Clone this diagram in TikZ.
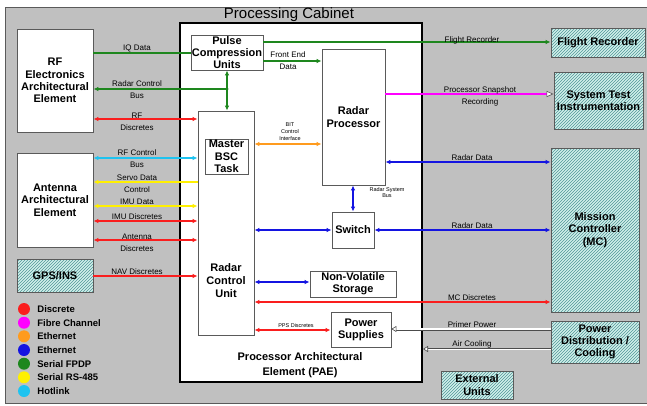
\documentclass[tikz,border=0pt]{standalone}
\usepackage{fontspec}
\setmainfont{Liberation Sans}
\usetikzlibrary{arrows.meta,patterns,positioning}

\definecolor{bggray}{RGB}{192,192,192}
\definecolor{boxline}{RGB}{90,90,90}
\definecolor{hatchbg}{RGB}{210,240,236}
\definecolor{hatchln}{RGB}{80,150,150}
\definecolor{fpdp}{RGB}{30,135,30}
\definecolor{discr}{RGB}{250,30,30}
\definecolor{fibre}{RGB}{255,0,255}
\definecolor{ethorange}{RGB}{255,155,30}
\definecolor{ethblue}{RGB}{20,20,225}
\definecolor{rsyellow}{RGB}{255,240,0}
\definecolor{hotlink}{RGB}{30,195,240}

\begin{document}
\begin{tikzpicture}
      [x=1pt, y=-1pt, >={Latex[length=5pt,width=4.5pt]},
       box/.style={draw=boxline, fill=white, line width=0.8pt, inner sep=0pt,
         align=center, font=\bfseries\fontsize{11}{12.3}\selectfont},
       extbox/.style={box, preaction={fill=hatchbg}, pattern=north east lines,
         pattern color=hatchln},
       lbl/.style={inner sep=0pt, align=center, font=\fontsize{8}{12}\selectfont},
       smalllbl/.style={inner sep=0pt, align=center, font=\fontsize{5.5}{7}\selectfont},
       link/.style={line width=1.5pt},
       hollow/.style={draw=gray!60!black, double=white, line width=0.8pt,
         -{Triangle[open,fill=white,length=5pt,width=6pt,line width=0.6pt]}}]
      \useasboundingbox (0,0) rectangle (647,405);
      \fill [bggray] (5,7) rectangle (647,403);
      \draw [boxline] (647,7) -- (5,7) -- (5,403) -- (647,403);

      % processing cabinet
      \node [draw=black, fill=white, line width=2pt, minimum width=242pt,
             minimum height=359pt] (cabinet) at (301,202.5) {};
      \node [font=\fontsize{15}{18}\selectfont, inner sep=0pt] (cabtitle) at (289,15) {Processing Cabinet};
      \node [box, minimum width=72pt, minimum height=35pt] (pcu) at (227,52.5) {Pulse\\Compression\\Units};
      \node [box, minimum width=56pt, minimum height=224pt] (rcu) at (226,223) {};
      \node [box, minimum width=43pt, minimum height=35pt] (bsc) at (226.5,156.5) {Master\\BSC\\Task};
      \node [font=\bfseries\fontsize{11}{13}\selectfont, align=center, inner sep=0pt] (rcutext) at (226,281) {Radar\\Control\\Unit};
      \node [box, minimum width=63pt, minimum height=136pt] (rp) at (353.5,117) {Radar\\Processor};
      \node [box, minimum width=42pt, minimum height=36pt] (sw) at (353,230) {Switch};
      \node [box, minimum width=86pt, minimum height=26pt] (nvs) at (353,284) {Non-Volatile\\Storage};
      \node [box, minimum width=60pt, minimum height=35pt] (ps) at (361,329.5) {Power\\Supplies};
      \node [font=\bfseries\fontsize{11}{15}\selectfont, align=center, inner sep=0pt] (pae) at (300,365.5) {Processor Architectural\\Element (PAE)};

      % elements outside the cabinet
      \node [box, minimum width=76pt, minimum height=103pt] (rf) at (55,80.5) {RF\\Electronics\\Architectural\\Element};
      \node [box, minimum width=76pt, minimum height=94pt] (ant) at (55,200) {Antenna\\Architectural\\Element};
      \node [extbox, minimum width=76pt, minimum height=33pt] (gps) at (55,275.5) {GPS/INS};
      \node [extbox, minimum width=94pt, minimum height=29pt] (fr) at (598,42.5) {Flight Recorder};
      \node [extbox, minimum width=89pt, minimum height=57pt] (sti) at (598.5,100.5) {System Test\\Instrumentation};
      \node [extbox, minimum width=88pt, minimum height=164pt] (mc) at (595,230) {Mission\\Controller\\(MC)};
      \node [extbox, minimum width=88pt, minimum height=42pt] (pdc) at (595,342) {Power\\Distribution /\\Cooling};
      \node [extbox, minimum width=72pt, minimum height=28pt] (ext) at (477,385) {External\\Units};

      % links to the RF and antenna elements
      \draw [link, fpdp] (rf.east |- 0,53) -- (pcu.west |- 0,53);
      \draw [link, fpdp, <->] (pcu.south) -- (pcu.south |- rcu.north);
      \coordinate (rcbjoin) at (pcu.south |- 0,89);
      \draw [link, fpdp, ->] (rcbjoin) -- (rf.east |- rcbjoin);
      \fill [fpdp] (rcbjoin) circle (1.6pt);
      \draw [link, discr, <->] (rf.east |- 0,119) -- (rcu.west |- 0,119);
      \draw [link, hotlink, <->] (ant.east |- 0,158) -- (rcu.west |- 0,158);
      \draw [link, rsyellow, ->] (rcu.west |- 0,182) -- (ant.east |- 0,182);
      \draw [link, rsyellow, <->] (ant.east |- 0,206) -- (rcu.west |- 0,206);
      \draw [link, discr, <->] (ant.east |- 0,221) -- (rcu.west |- 0,221);
      \draw [link, discr, <->] (ant.east |- 0,240) -- (rcu.west |- 0,240);
      \draw [link, discr, ->] (gps.east |- 0,276) -- (rcu.west |- 0,276);

      % links inside the cabinet
      \draw [link, fpdp, ->] (pcu.east |- 0,61) -- (rp.west |- 0,61);
      \draw [link, ethorange, <->] (rcu.east |- 0,144) -- (rp.west |- 0,144);
      \draw [link, ethblue, <->] (rp.south -| sw.north) -- (sw.north);
      \draw [link, ethblue, <->] (rcu.east |- sw.west) -- (sw.west);
      \draw [link, ethblue, <->] (rcu.east |- 0,282) -- (nvs.west |- 0,282);
      \draw [link, discr, <->] (rcu.east |- 0,330) -- (ps.west |- 0,330);

      % links to the external units
      \draw [link, fpdp, ->] (pcu.east |- 0,42) -- (fr.west |- 0,42);
      \draw [link, fibre, -{Triangle[open,fill=white,color=gray!60!black,length=7pt,width=6pt,line width=0.6pt]}]
            (rp.east |- 0,94) -- (sti.west |- 0,94);
      \draw [link, ethblue, <->] (rp.east |- 0,162) -- (mc.west |- 0,162);
      \draw [link, ethblue, <->] (sw.east) -- (mc.west |- sw.east);
      \draw [link, discr, <->] (rcu.east |- 0,302) -- (mc.west |- 0,302);
      \draw [hollow, double distance=1.4pt] (pdc.west |- 0,329) -- (ps.east |- 0,329);
      \draw [hollow, double distance=1pt, line width=0.6pt] (pdc.west |- 0,349) -- (cabinet.east |- 0,349);

      % connector labels
      \node [lbl] (iqlbl)   at (137,48)    {IQ Data};
      \node [lbl] (rcblbl)  at (137,90)    {Radar Control\\Bus};
      \node [lbl] (rfdlbl)  at (137,121.5) {RF\\Discretes};
      \node [lbl] (rfcblbl) at (137,159)   {RF Control\\Bus};
      \node [lbl] (srvlbl)  at (137,184)   {Servo Data\\Control};
      \node [lbl] (imulbl)  at (137,202)   {IMU Data};
      \node [lbl] (imudlbl) at (137,217)   {IMU Discretes};
      \node [lbl] (antdlbl) at (137,242.5) {Antenna\\Discretes};
      \node [lbl] (navlbl)  at (137,272)   {NAV Discretes};
      \node [lbl] (fedlbl)  at (288,61)    {Front End\\Data};
      \node [lbl] (frlbl)   at (472,40)    {Flight Recorder};
      \node [lbl] (snaplbl) at (480,96)    {Processor Snapshot\\Recording};
      \node [lbl] (rdlbl)   at (472,158)   {Radar Data};
      \node [lbl] (rdlblb)  at (472,226)   {Radar Data};
      \node [lbl] (mcdlbl)  at (472,298)   {MC Discretes};
      \node [lbl] (pwrlbl)  at (472,325)   {Primer Power};
      \node [lbl] (airlbl)  at (472,344)   {Air Cooling};
      \node [smalllbl] (bitlbl) at (290,131.5) {BIT\\Control\\Interface};
      \node [smalllbl, font=\fontsize{5.5}{6}\selectfont] (rsblbl) at (387,193) {Radar System\\Bus};
      \node [smalllbl] (ppslbl) at (296,326) {PPS Discretes};

      % legend
      \foreach \y/\col/\txt [count=\i] in {309/discr/Discrete, 322.7/fibre/Fibre Channel,
          336.3/ethorange/Ethernet, 350/ethblue/Ethernet, 363.7/fpdp/Serial FPDP,
          377.3/rsyellow/Serial RS-485, 391/hotlink/Hotlink} {
        \node [circle, fill=\col, minimum size=12pt, inner sep=0pt] (lgdot\i) at (24,\y) {};
        \node [right=7pt of lgdot\i, inner sep=0pt, font=\bfseries\fontsize{9.5}{11}\selectfont] (lgtxt\i) {\txt};
      }
    \end{tikzpicture}
\end{document}
